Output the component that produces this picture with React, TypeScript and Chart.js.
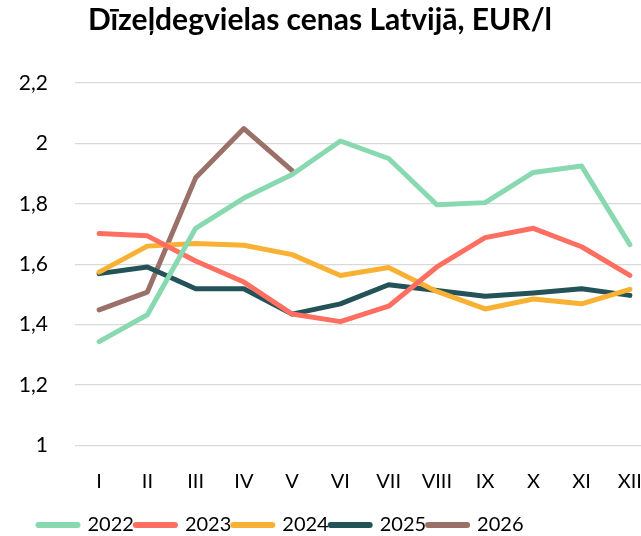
import React, { useEffect, useRef } from "react";
import { Chart, registerables } from "chart.js";

Chart.register(...registerables);

const months = ["I", "II", "III", "IV", "V", "VI", "VII", "VIII", "IX", "X", "XI", "XII"];
const v2022 = [1.344, 1.433, 1.719, 1.819, 1.897, 2.008, 1.95, 1.797, 1.804, 1.904, 1.925, 1.665];
const v2023 = [1.702, 1.694, 1.611, 1.541, 1.435, 1.41, 1.461, 1.591, 1.688, 1.719, 1.658, 1.563];
const v2024 = [1.574, 1.66, 1.669, 1.663, 1.632, 1.563, 1.589, 1.51, 1.452, 1.485, 1.469, 1.517];
const v2025 = [1.569, 1.591, 1.519, 1.519, 1.435, 1.469, 1.532, 1.513, 1.494, 1.505, 1.519, 1.497];
const v2026 = [1.449, 1.508, 1.886, 2.049, 1.91];
const yTicks = [1, 1.2, 1.4, 1.6, 1.8, 2, 2.2];
const title = "Dīzeļdegvielas cenas Latvijā, EUR/l";

const FONT = "Lato, 'Open Sans', sans-serif";

const shiftPlugin = {
  id: "shiftBlocks",
  afterLayout(chart: any) {
    if (chart.titleBlock) {
      chart.titleBlock.left -= 7;
      chart.titleBlock.right -= 7;
    }
    if (chart.legend) {
      chart.legend.left -= 46;
      chart.legend.right -= 46;
    }
  },
};

export default function App() {
  const ref = useRef<HTMLCanvasElement | null>(null);
  useEffect(() => {
    if (!ref.current) return;
    const mk = (label: string, data: number[], color: string) => ({
      label,
      data,
      borderColor: color,
      backgroundColor: color,
      borderWidth: 5,
      borderCapStyle: "round" as const,
      borderJoinStyle: "round" as const,
      pointRadius: 0,
      pointHoverRadius: 0,
      tension: 0,
      fill: false,
    });
    const chart = new Chart(ref.current, {
      type: "line",
      data: {
        labels: months,
        datasets: [
          mk("2022", v2022, "#88D8B0"),
          mk("2023", v2023, "#FF6F61"),
          mk("2024", v2024, "#F8B133"),
          mk("2025", v2025, "#235358"),
          mk("2026", v2026, "#9B7069"),
        ],
      },
      plugins: [shiftPlugin],
      options: {
        responsive: false,
        animation: false,
        devicePixelRatio: 1,
        layout: { padding: { top: 2, bottom: -9, left: 0, right: 0 } },
        plugins: {
          title: {
            display: true,
            text: title,
            color: "#000",
            font: { family: FONT, size: 30, weight: "bold" },
            padding: { top: 0, bottom: 45 },
          },
          legend: {
            position: "bottom",
            labels: {
              usePointStyle: true,
              pointStyle: "line",
              pointStyleWidth: 39,
              boxHeight: 6,
              color: "#000",
              font: { family: FONT, size: 20 },
              padding: 2,
              generateLabels: (c: any) => {
                const items = Chart.defaults.plugins.legend.labels.generateLabels(c);
                items.forEach((it: any) => {
                  it.lineWidth = 6;
                  it.lineCap = "round";
                });
                return items;
              },
            },
          },
          tooltip: { enabled: false },
        },
        scales: {
          x: {
            offset: true,
            grid: { display: false, drawTicks: false },
            border: { display: false },
            ticks: {
              color: "#000",
              font: { family: FONT, size: 20 },
              padding: 24,
              maxRotation: 0,
              autoSkip: false,
            },
            afterFit: (s: any) => {
              s.height = 67.5;
              s.paddingLeft = 0;
              s.paddingRight = 0;
            },
          },
          y: {
            min: 1,
            max: 2.2,
            afterBuildTicks: (s: any) => {
              s.ticks = yTicks.map((v) => ({ value: v }));
            },
            grid: { color: "#D9D9D9", lineWidth: 1.3, drawTicks: false },
            border: { display: false },
            ticks: {
              color: "#000",
              font: { family: FONT, size: 21 },
              padding: 27,
              callback: (v: any) => String(Number(Number(v).toFixed(1))).replace(".", ","),
            },
            afterFit: (s: any) => {
              s.width = 75;
            },
          },
        },
      },
    });
    return () => chart.destroy();
  }, []);
  return (
    <div style={{ position: "fixed", left: 0, top: 0, width: 641, height: 536, overflow: "hidden", background: "#fff" }}>
      <canvas ref={ref} width={654} height={536} style={{ display: "block", width: 654, height: 536 }} />
    </div>
  );
}
